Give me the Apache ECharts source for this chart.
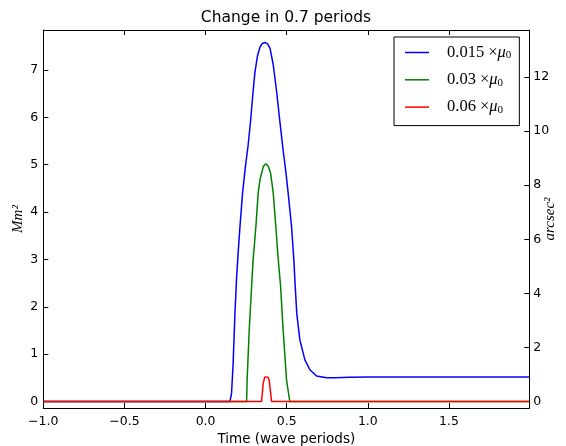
<!DOCTYPE html>
<html><head><meta charset="utf-8">
<script src="https://cdn.jsdelivr.net/npm/echarts@6/dist/echarts.min.js"></script>
<style>html,body{margin:0;padding:0;background:#fff}#c{width:566px;height:446px}</style>
</head><body><div id="c"></div>
<script>
const seriesNames = ['0.015 ×μ₀', '0.03 ×μ₀', '0.06 ×μ₀'];
const blueT = [-1.0, 0.150, 0.160, 0.170, 0.181, 0.191, 0.201, 0.211, 0.228, 0.245, 0.262, 0.278, 0.293, 0.304, 0.320, 0.335, 0.350, 0.366, 0.382, 0.397, 0.417, 0.438, 0.458, 0.478, 0.493, 0.509, 0.530, 0.544, 0.553, 0.562, 0.581, 0.612, 0.643, 0.684, 0.746, 0.800, 0.890, 1.0, 1.5, 1.995];
const blueV = [0, 0, 0.17, 0.81, 1.86, 2.60, 3.15, 3.65, 4.40, 4.95, 5.40, 5.95, 6.55, 6.95, 7.30, 7.48, 7.56, 7.58, 7.55, 7.46, 7.11, 6.54, 5.91, 5.30, 4.90, 4.40, 3.69, 2.99, 2.40, 1.86, 1.30, 0.88, 0.67, 0.54, 0.50, 0.50, 0.51, 0.52, 0.52, 0.52];
const greenT = [-1.0, 0.253, 0.256, 0.269, 0.284, 0.293, 0.310, 0.324, 0.335, 0.345, 0.357, 0.372, 0.387, 0.401, 0.417, 0.433, 0.448, 0.462, 0.478, 0.499, 0.519, 1.995];
const greenV = [0, 0, 0.45, 1.51, 2.45, 2.99, 3.69, 4.40, 4.68, 4.82, 4.97, 5.02, 4.96, 4.82, 4.40, 3.69, 2.99, 2.45, 1.51, 0.45, 0, 0];
const redT = [-1.0, 0.345, 0.355, 0.365, 0.376, 0.385, 0.392, 0.407, 1.995];
const redV = [0, 0, 0.38, 0.52, 0.54, 0.51, 0.45, 0, 0];
const xTicks = [-1.0, -0.5, 0.0, 0.5, 1.0, 1.5];
const yLeftTicks = [0, 1, 2, 3, 4, 5, 6, 7];
const yRightTicks = [0, 2, 4, 6, 8, 10, 12];

const zip = (t, v) => t.map((x, i) => [x, v[i]]);
const fmtX = v => (v < 0 ? '\u2212' : '') + Math.abs(v).toFixed(1);
const tickFont = {fontFamily: 'DejaVu Sans', fontSize: 12.5, color: '#000'};
const axLine = {show: true, onZero: false, lineStyle: {color: '#000', width: 1}};
const serif = 'Liberation Serif, DejaVu Serif';

const chart = echarts.init(document.getElementById('c'), null, {renderer: 'canvas'});
chart.setOption({
  animation: false,
  backgroundColor: '#fff',
  title: {
    text: 'Change in 0.7 periods', left: 286, top: 10, textAlign: 'center', padding: 0,
    textStyle: {fontFamily: 'DejaVu Sans', fontSize: 15.5, fontWeight: 'normal', color: '#000'}
  },
  grid: {left: 43.3, right: 36.7, top: 30, bottom: 38, containLabel: false, outerBoundsMode: 'none'},
  legend: {
    orient: 'vertical', left: 394, top: 37,
    padding: [7, 8, 10, 11], itemGap: 10.3, itemWidth: 24, itemHeight: 1.5, icon: 'rect',
    borderColor: '#000', borderWidth: 1, backgroundColor: '#fff',
    formatter: name => {
      const p = name.split('×');
      return '{n|' + p[0] + '×}{m|μ}{z|0}';
    },
    textStyle: {
      fontFamily: serif, fontSize: 16.5, color: '#000', padding: [0, 0, 0, 13], lineHeight: 17,
      rich: {
        n: {fontFamily: serif, fontSize: 16.5, color: '#000', lineHeight: 17},
        m: {fontFamily: serif, fontStyle: 'italic', fontSize: 16.5, color: '#000', lineHeight: 17},
        z: {fontFamily: serif, fontSize: 11, color: '#000', lineHeight: 17, padding: [6, 0, 0, 0]}
      }
    },
    data: seriesNames
  },
  xAxis: [{
    type: 'value', min: -1.0, max: 1.995, position: 'bottom',
    axisLine: axLine,
    axisTick: {show: true, inside: true, length: 5, customValues: xTicks, lineStyle: {color: '#000'}},
    axisLabel: Object.assign({show: true, margin: 7, customValues: xTicks, formatter: fmtX}, tickFont),
    splitLine: {show: false},
    name: 'Time (wave periods)', nameLocation: 'middle', nameGap: 24,
    nameTextStyle: {fontFamily: 'DejaVu Sans', fontSize: 13.5, color: '#000'}
  }, {
    type: 'value', min: -1.0, max: 1.995, position: 'top',
    axisLine: axLine,
    axisTick: {show: true, inside: true, length: 5, customValues: xTicks, lineStyle: {color: '#000'}},
    axisLabel: {show: false}, splitLine: {show: false}
  }],
  yAxis: [{
    type: 'value', min: -0.137, max: 7.844, position: 'left',
    axisLine: axLine,
    axisTick: {show: true, inside: true, length: 5, customValues: yLeftTicks, lineStyle: {color: '#000'}},
    axisLabel: Object.assign({show: true, margin: 5, customValues: yLeftTicks}, tickFont),
    splitLine: {show: false},
    name: 'Mm²', nameLocation: 'middle', nameRotate: 90, nameGap: 18, nameMoveOverlap: false,
    nameTextStyle: {fontFamily: serif, fontStyle: 'italic', fontSize: 15, color: '#000'}
  }, {
    type: 'value', min: -0.24, max: 13.74, position: 'right',
    axisLine: axLine,
    axisTick: {show: true, inside: true, length: 5, customValues: yRightTicks, lineStyle: {color: '#000'}},
    axisLabel: Object.assign({show: true, margin: 4, customValues: yRightTicks}, tickFont),
    splitLine: {show: false},
    name: 'arcsec²', nameLocation: 'middle', nameRotate: 90, nameGap: 13, nameMoveOverlap: false,
    nameTextStyle: {fontFamily: serif, fontStyle: 'italic', fontSize: 15, color: '#000'}
  }],
  series: [
    {name: seriesNames[0], type: 'line', data: zip(blueT, blueV), symbol: 'none', lineStyle: {color: '#0000ff', width: 1.5}, itemStyle: {color: '#0000ff'}},
    {name: seriesNames[1], type: 'line', data: zip(greenT, greenV), symbol: 'none', lineStyle: {color: '#008000', width: 1.5}, itemStyle: {color: '#008000'}},
    {name: seriesNames[2], type: 'line', data: zip(redT, redV), symbol: 'none', lineStyle: {color: '#ff0000', width: 1.5}, itemStyle: {color: '#ff0000'}}
  ]
});
</script></body></html>
